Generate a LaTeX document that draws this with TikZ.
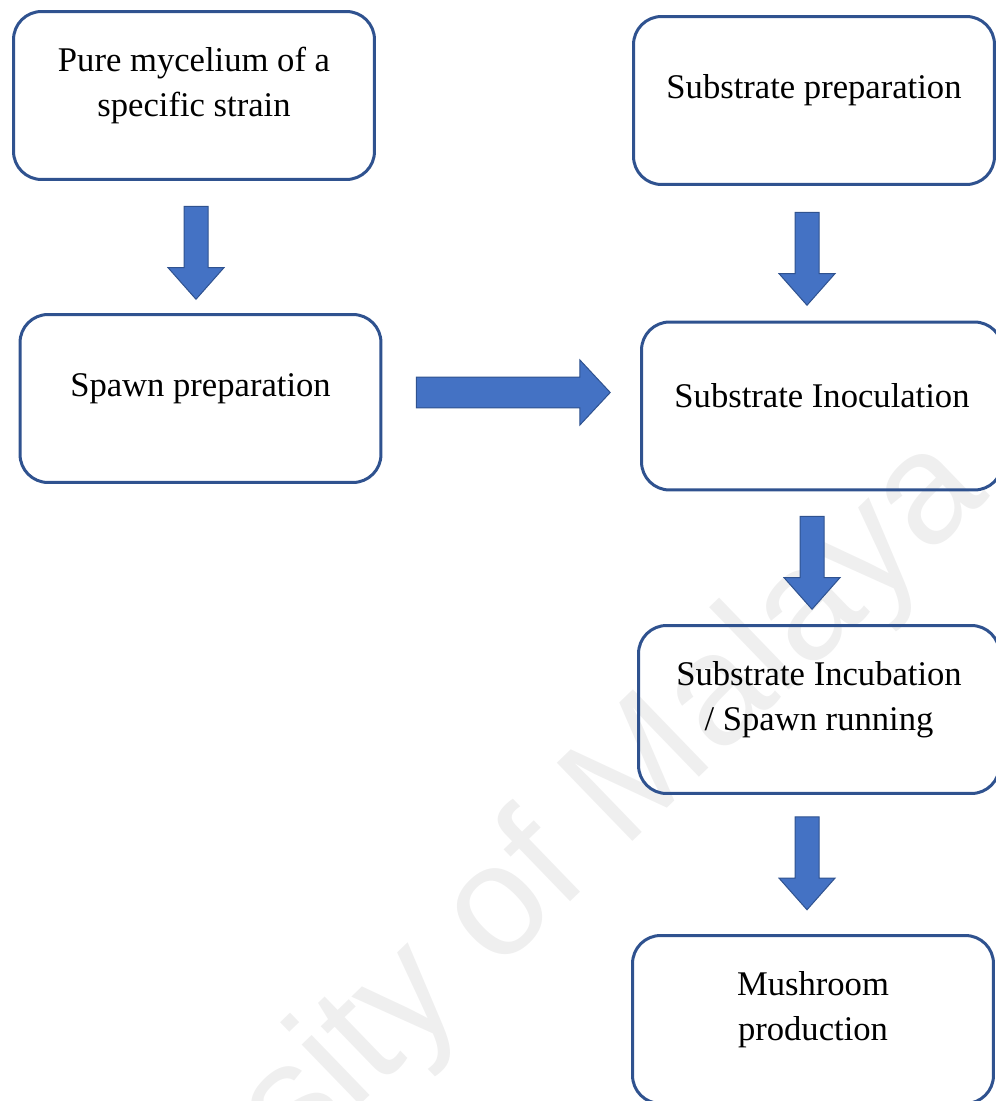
\documentclass[tikz,border=0pt]{standalone}
\usepackage{fontspec}
\setmainfont{Liberation Serif}
\newfontfamily\markfont{Liberation Sans}
\usetikzlibrary{shapes.arrows}

\definecolor{boxline}{HTML}{2F528F}
\definecolor{arrowfill}{HTML}{4472C4}
\definecolor{markgray}{HTML}{EFEFEF}

\tikzset{
  stepbox/.style={draw=boxline, line width=0.06cm, rounded corners=0.56cm,
    minimum width=7.22cm, minimum height=3.36cm, inner sep=0pt},
  boxtext/.style={font=\fontsize{19.7}{25.5}\selectfont, align=center, yshift=0.2cm},
  flowarrow/.style={single arrow, draw=boxline, fill=arrowfill, line width=0.02cm,
    inner sep=0.23cm, single arrow head extend=0.32cm, single arrow tip angle=83,
    minimum height=1.86cm, rotate=-90},
}

\begin{document}
\begin{tikzpicture}[x=0.02cm,y=-0.02cm]
  \useasboundingbox (0,0) rectangle (996,1101);
  \clip (0,0) rectangle (996,1101);

  % Watermark
  \node [font=\markfont\fontsize{90}{90}\selectfont, text=markgray, rotate=44,
    anchor=base east, inner sep=0pt] (mark) at (991,496) {University of Malaya};

  % Left column boxes
  \node [stepbox, label={[boxtext]center:Pure mycelium of a\\specific strain}] (mycel) at (194.0,95.5) {};
  \node [stepbox, label={[boxtext]center:Spawn preparation}] (spawn) at (200.5,398.5) {};

  % Right column boxes
  \node [stepbox, label={[boxtext]center:Substrate preparation}] (subprep) at (814.0,100.5) {};
  \node [stepbox, label={[boxtext]center:Substrate Inoculation}] (inocul) at (822.0,406.0) {};
  \node [stepbox, label={[boxtext]center:Substrate Incubation\\/ Spawn running}] (incub) at (819.0,709.5) {};
  \node [stepbox, label={[boxtext]center:Mushroom\\production}] (mushroom) at (813.0,1019.5) {};

  % Block arrows between the boxes
  \node [flowarrow] (mycel-spawn) at (196.0,246.0) {};
  \node [flowarrow] (subprep-inocul) at (807.0,252.0) {};
  \node [flowarrow] (inocul-incub) at (812.0,556.0) {};
  \node [flowarrow] (incub-mushroom) at (807.0,856.5) {};
  \node [flowarrow, rotate=90, inner sep=0.30cm, single arrow head extend=0.34cm,
    single arrow tip angle=94, minimum height=3.88cm] (spawn-inocul) at (506.0,392.5) {};
\end{tikzpicture}
\end{document}
